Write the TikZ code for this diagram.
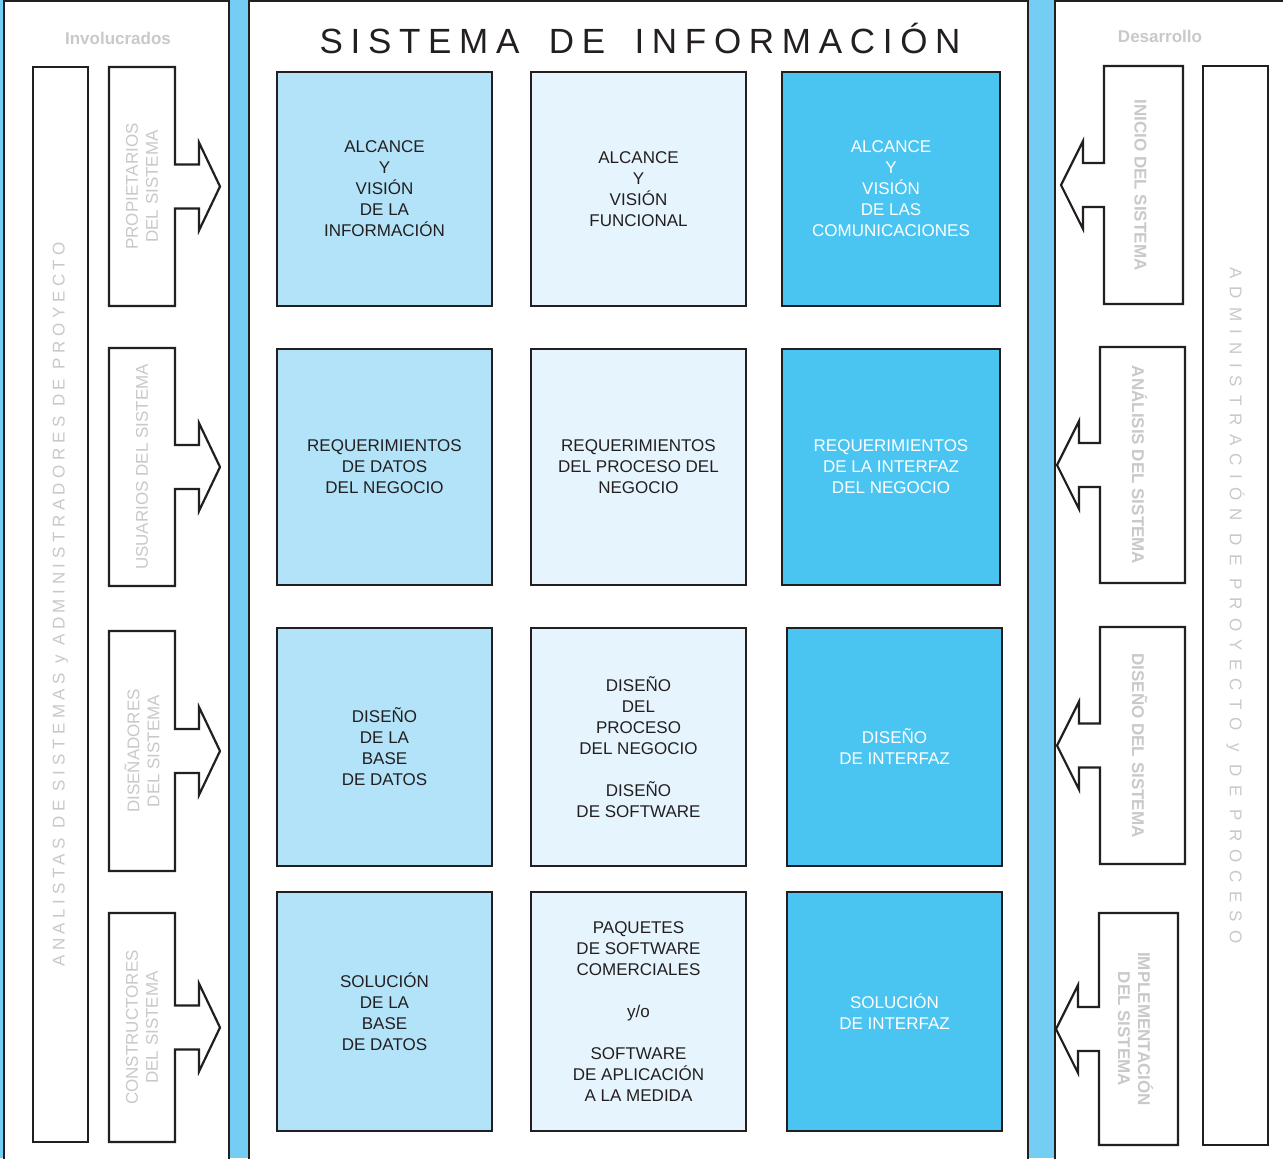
\documentclass[tikz,border=0pt]{standalone}
\usepackage{fontspec}
\setmainfont{Liberation Sans}
\newfontfamily\titlefont[LetterSpace=22]{Liberation Sans}
\newfontfamily\anafont[LetterSpace=27]{Liberation Sans}
\newfontfamily\admfont[LetterSpace=48]{Liberation Sans}
\definecolor{bgblue}{HTML}{74CEF4}
\definecolor{ink}{HTML}{231F20}
\definecolor{grayT}{HTML}{C8C9CA}
\definecolor{colA}{HTML}{B3E3F8}
\definecolor{colB}{HTML}{E6F5FD}
\definecolor{colC}{HTML}{4AC5F1}
\tikzset{
  panel/.style={draw=ink, line width=1.3pt, fill=white},
  cell/.style={draw=ink, line width=1.2pt},
  celltext/.style={align=center, text=ink, font=\fontsize{8.5}{10.5}\selectfont},
  blockarrow/.style={draw=ink, line width=1.1pt, fill=white},
  sidelabel/.style={align=center, text=grayT, font=\fontsize{8.5}{10}\selectfont},
}
\begin{document}
\begin{tikzpicture}[x=0.5pt,y=-0.5pt]
\useasboundingbox (0,0) rectangle (1283,1158);
\fill[bgblue] (0,0) rectangle (1283,1158);
% paneles
\draw[panel] (4,1) rectangle (229,1175);
\draw[panel] (249,1) rectangle (1028,1175);
\draw[panel] (1055,1) rectangle (1300,1175);
\node[text=grayT, font=\bfseries\fontsize{8.5}{10}\selectfont] (invol) at (118,38) {Involucrados};
\node[text=grayT, font=\bfseries\fontsize{8.5}{10}\selectfont] (desar) at (1160,36) {Desarrollo};
\node[text=ink, font=\titlefont\fontsize{17.5}{20}\selectfont] (sistema) at (640,38) {SISTEMA\hspace{6pt} DE\hspace{6pt} INFORMACIÓN};
% columnas verticales
\draw[cell, fill=white] (33,67) rectangle (88,1142)
  node[midway, rotate=90, sidelabel, font=\anafont\fontsize{8.5}{10}\selectfont] (analistas) {ANALISTAS DE SISTEMAS y ADMINISTRADORES DE PROYECTO};
\draw[cell, fill=white] (1203,66) rectangle (1268,1145)
  node[midway, rotate=-90, sidelabel, font=\admfont\fontsize{8.5}{10}\selectfont] (admin) {ADMINISTRACIÓN DE PROYECTO y DE PROCESO};
% involucrados
\foreach \ya/\yb/\txt [count=\i] in {67/306/{PROPIETARIOS\\DEL SISTEMA}, 348/586/{USUARIOS DEL SISTEMA}, 631/871/{DISEÑADORES\\DEL SISTEMA}, 913/1142/{CONSTRUCTORES\\DEL SISTEMA}}{%
    \pgfmathsetmacro\yc{(\ya+\yb)/2}
    \draw[blockarrow] (109,\ya) -- (175,\ya) -- (175,\yc-22) -- (199,\yc-22) -- (199,\yc-44) -- (220,\yc)
      -- (199,\yc+44) -- (199,\yc+22) -- (175,\yc+22) -- (175,\yb) -- (109,\yb) -- cycle;
    \node[sidelabel, rotate=90] (invo\i) at (142,\yc) {\txt};
}
% desarrollo
\foreach \ya/\yb/\xa/\xb/\txt [count=\i] in {66/304/1104/1183/{INICIO DEL SISTEMA}, 347/583/1100/1185/{ANÁLISIS DEL SISTEMA}, 627/864/1100/1185/{DISEÑO DEL SISTEMA}, 913/1145/1099/1178/{IMPLEMENTACIÓN\\DEL SISTEMA}}{%
    \pgfmathsetmacro\yc{(\ya+\yb)/2}
    \pgfmathsetmacro\xc{(\xa+\xb)/2}
    \draw[blockarrow] (\xb,\ya) -- (\xa,\ya) -- (\xa,\yc-22) -- (\xa-21,\yc-22) -- (\xa-21,\yc-44) -- (\xa-43,\yc)
      -- (\xa-21,\yc+44) -- (\xa-21,\yc+22) -- (\xa,\yc+22) -- (\xa,\yb) -- (\xb,\yb) -- cycle;
    \node[sidelabel, rotate=-90, font=\bfseries\fontsize{8.5}{10}\selectfont] (desa\i) at (\xc-3,\yc) {\txt};
}
% fila 1
\draw[cell, fill=colA] (277,72) rectangle (492,306) node[midway, celltext] (av1) {ALCANCE\\Y\\VISIÓN\\DE LA\\INFORMACIÓN};
\draw[cell, fill=colB] (531,72) rectangle (746,306) node[midway, celltext] (av2) {ALCANCE\\Y\\VISIÓN\\FUNCIONAL};
\draw[cell, fill=colC] (782,72) rectangle (1000,306) node[midway, celltext, text=white] (av3) {ALCANCE\\Y\\VISIÓN\\DE LAS\\COMUNICACIONES};
% fila 2
\draw[cell, fill=colA] (277,349) rectangle (492,585) node[midway, celltext] (req1) {REQUERIMIENTOS\\DE DATOS\\DEL NEGOCIO};
\draw[cell, fill=colB] (531,349) rectangle (746,585) node[midway, celltext] (req2) {REQUERIMIENTOS\\DEL PROCESO DEL\\NEGOCIO};
\draw[cell, fill=colC] (782,349) rectangle (1000,585) node[midway, celltext, text=white] (req3) {REQUERIMIENTOS\\DE LA INTERFAZ\\DEL NEGOCIO};
% fila 3
\draw[cell, fill=colA] (277,628) rectangle (492,866) node[midway, celltext] (dis1) {DISEÑO\\DE LA\\BASE\\DE DATOS};
\draw[cell, fill=colB] (531,628) rectangle (746,866) node[midway, celltext] (dis2) {DISEÑO\\DEL\\PROCESO\\DEL NEGOCIO\\[10.5pt]DISEÑO\\DE SOFTWARE};
\draw[cell, fill=colC] (787,628) rectangle (1002,866) node[midway, celltext, text=white] (dis3) {DISEÑO\\DE INTERFAZ};
% fila 4
\draw[cell, fill=colA] (277,892) rectangle (492,1131) node[midway, celltext] (sol1) {SOLUCIÓN\\DE LA\\BASE\\DE DATOS};
\draw[cell, fill=colB] (531,892) rectangle (746,1131) node[midway, celltext] (sol2) {PAQUETES\\DE SOFTWARE\\COMERCIALES\\[10.5pt]y/o\\[10.5pt]SOFTWARE\\DE APLICACIÓN\\A LA MEDIDA};
\draw[cell, fill=colC] (787,892) rectangle (1002,1131) node[midway, celltext, text=white] (sol3) {SOLUCIÓN\\DE INTERFAZ};
\end{tikzpicture}
\end{document}
